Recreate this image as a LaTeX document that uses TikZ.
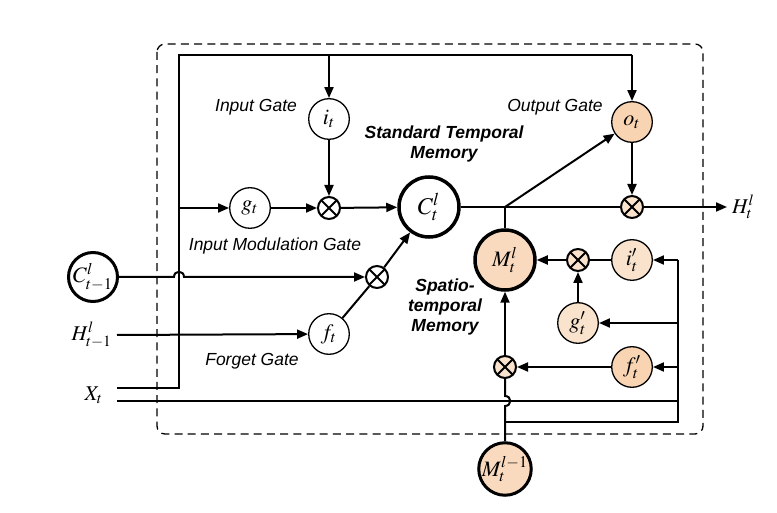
\documentclass[tikz,border=0pt]{standalone}
\usepackage{mathptmx}
\usepackage{fontspec}
\setmainfont{Liberation Serif}
\setsansfont{Liberation Sans}
\usetikzlibrary{arrows.meta,calc,positioning}
\definecolor{Apricot}{HTML}{F9D4B2}
\definecolor{Cream}{HTML}{F9E3CD}
\tikzset{
  gate/.style={circle, draw, line width=0.65pt, minimum size=20.3pt, inner sep=0pt, font=\fontsize{11}{13}\selectfont},
  memcell/.style={circle, draw, line width=1.75pt, minimum size=30pt, inner sep=0pt, font=\fontsize{12}{14}\selectfont},
  prodnode/.style={circle, draw, line width=1pt, minimum size=11pt, inner sep=0pt,
    path picture={\draw[line width=1pt] (path picture bounding box.north west) -- (path picture bounding box.south east)
      (path picture bounding box.north east) -- (path picture bounding box.south west);}},
  gatelabel/.style={font=\sffamily\itshape\fontsize{8.75}{10}\selectfont},
  memlabel/.style={font=\sffamily\bfseries\itshape\fontsize{8.75}{10}\selectfont, align=center},
  io/.style={font=\fontsize{10.5}{12}\selectfont, inner sep=2pt},
}

\begin{document}
\begin{tikzpicture}[x=0.5pt, y=-0.5pt, line width=1pt, >={Triangle[length=5.5pt,width=4.5pt]}]
    \useasboundingbox (0,0) rectangle (777,513);
    \draw[dash pattern=on 4pt off 2.6pt, line width=0.65pt, rounded corners=4pt] (157,44) rectangle (703,434);

    \node[gate] (it) at (329,119) {$i_t$};
    \node[gate] (gt) at (250,208) {$g_t$};
    \node[prodnode] (mIn) at (329,208) {};
    \node[memcell] (Ct) at (429,207) {$C^l_t$};
    \node[memcell, line width=1.5pt, minimum size=24.5pt, font=\fontsize{11}{13}\selectfont] (Cprev) at (93,277) {$C^l_{t-1}$};
    \node[prodnode] (mF) at (377,277) {};
    \node[gate] (ft) at (329,334) {$f_t$};
    \node[gate, fill=Apricot] (ot) at (632,122) {$o_t$};
    \node[prodnode, fill=Cream] (mOut) at (632,207) {};
    \node[memcell, fill=Apricot!85!white, font=\fontsize{11}{13}\selectfont] (Mt) at (505,260) {$M^l_t$};
    \node[prodnode, fill=Cream] (mM) at (578,260) {};
    \node[gate, fill=Cream] (ip) at (632,260) {$i'_t$};
    \node[gate, fill=Cream] (gp) at (578,323) {$g'_t$};
    \node[gate, fill=Apricot] (fp) at (632,367) {$f'_t$};
    \node[prodnode, fill=Cream] (mS) at (505,367) {};
    \node[memcell, line width=1.5pt, minimum size=24.5pt, fill=Apricot!85!white, font=\fontsize{11}{13}\selectfont] (Mprev) at (505,469) {$M^{l-1}_t$};

    \node[io, anchor=east] (Hprev) at (117,335) {$H^l_{t-1}$};
    \node[io, anchor=east] (Xt) at (108,395) {$X_t$};
    \node[io, anchor=west] (Ht) at (727,207) {$H^l_t$};

    \node[gatelabel] (lblIn) at (256,107) {Input Gate};
    \node[gatelabel] (lblOut) at (555,107) {Output Gate};
    \node[gatelabel] (lblMod) at (275,246) {Input Modulation Gate};
    \node[gatelabel] (lblF) at (252,361) {Forget Gate};
    \node[memlabel] (lblStd) at (444,144) {Standard Temporal\\Memory};
    \node[memlabel] (lblSpt) at (445,307) {Spatio-\\temporal\\Memory};

    \coordinate (topL) at (179,55);
    \coordinate (topR) at (632,55);
    \coordinate (xa) at (117,388);
    \coordinate (xb) at (117,401);
    \coordinate (rail) at (678,422);
    \coordinate (split) at (Mt |- Ct);

    \draw (xa) -- (xa -| topL) -- (topL) -- (topR);
    \draw[->] (topR) -- (ot);
    \draw[->] (it |- topL) -- (it);
    \draw[->] (gt -| topL) -- (gt);
    \draw[->] (gt) -- (mIn);
    \draw[->] (it) -- (mIn);
    \draw[->] (mIn) -- (Ct);
    \draw[->] (Cprev) -- ($(Cprev -| topL)+(-5,0)$) .. controls +(0,-7) and +(0,-7) .. ($(Cprev -| topL)+(5,0)$) -- (mF);
    \draw[->] (mF) -- (Ct);
    \draw (ft) -- (mF);
    \draw[->] (Hprev.east) -- (ft);

    \draw (Ct) -- (mOut);
    \draw[->] (split) -- (ot);
    \draw (split) -- (Mt);
    \draw[->] (ot) -- (mOut);
    \draw[->] (mOut) -- (mOut -| Ht.west);

    \draw (xb) -- (xb -| rail);
    \draw (Mprev |- rail) -- (rail) -- (rail |- ip);
    \draw[->] (rail |- ip) -- (ip);
    \draw[->] (rail |- gp) -- (gp);
    \draw[->] (rail |- fp) -- (fp);
    \draw (ip) -- (mM);
    \draw[->] (mM) -- (Mt);
    \draw[->] (gp) -- (mM);
    \draw[->] (fp) -- (mS);
    \draw[->] (mS) -- (Mt);
    \draw (Mprev) -- ($(Mprev |- xb)+(0,5)$) .. controls +(7,0) and +(7,0) .. ($(Mprev |- xb)+(0,-5)$) -- (mS);
  \end{tikzpicture}
\end{document}
